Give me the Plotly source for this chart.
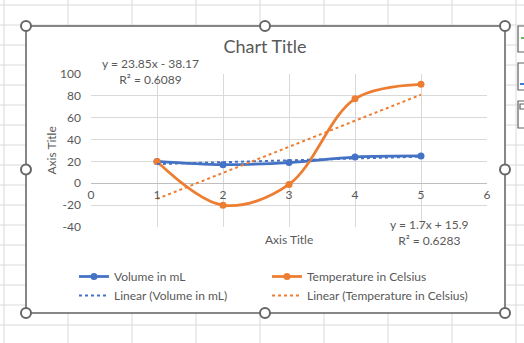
import plotly.graph_objects as go

# ---- data -----------------------------------------------------------------
x_vals = [1, 2, 3, 4, 5]
volume_ml = [20, 17, 19, 24, 25]
temperature_c = [20, -20, -1, 77.3, 90.6]

# linear trendlines: (slope, intercept) and R²
vol_fit = (1.7, 15.9)
vol_r2 = 0.6283
temp_fit = (23.85, -38.17)
temp_r2 = 0.6089
trend_x = [1, 5]

x_ticks = [0, 1, 2, 3, 4, 5, 6]
y_ticks = [-40, -20, 0, 20, 40, 60, 80, 100]

# ---- geometry (pixels) ----------------------------------------------------
W, H = 524, 343
PL, PR, PT, PB = 91, 487, 74, 227          # plot area
CL, CR, CT, CB = 26, 505, 26, 313          # chart area frame

def fx(px):
    return (px - PL) / (PR - PL)

def fy(py):
    return (PB - py) / (PB - PT)

FONT = "Lato"
TXT = "#595959"
BLUE = "#4472C4"
ORANGE = "#ED7D31"


def eq_text(fit, r2):
    m, b = fit
    sign = "-" if b < 0 else "+"
    return f"y = {m:g}x {sign} {abs(b):g}<br>R² = {r2:.4f}"


def line_y(fit, xs):
    return [fit[0] * x + fit[1] for x in xs]


fig = go.Figure()

fig.add_trace(go.Scatter(
    x=x_vals, y=volume_ml, name="Volume in mL", mode="lines+markers",
    line=dict(color=BLUE, width=2.75, shape="spline", smoothing=1),
    marker=dict(size=7, color=BLUE), legend="legend", legendgroup="a"))
fig.add_trace(go.Scatter(
    x=x_vals, y=temperature_c, name="Temperature in Celsius", mode="lines+markers",
    line=dict(color=ORANGE, width=2.75, shape="spline", smoothing=1),
    marker=dict(size=7, color=ORANGE), legend="legend2", legendgroup="b"))
fig.add_trace(go.Scatter(
    x=trend_x, y=line_y(vol_fit, trend_x), name="Linear (Volume in mL)", mode="lines",
    line=dict(color=BLUE, width=2, dash="dot"), legend="legend", legendgroup="c"))
fig.add_trace(go.Scatter(
    x=trend_x, y=line_y(temp_fit, trend_x), name="Linear (Temperature in Celsius)",
    mode="lines", line=dict(color=ORANGE, width=2, dash="dot"),
    legend="legend2", legendgroup="d"))

# ---- worksheet cells behind the chart -------------------------------------
shapes = []
for k in range(9):
    px = 4 + 64 * k
    shapes.append(dict(type="line", xref="paper", yref="paper", layer="below",
                       x0=fx(px), x1=fx(px), y0=fy(-5), y1=fy(H + 5),
                       line=dict(color="#dadada", width=1)))
for k in range(18):
    py = 5 + 20 * k
    shapes.append(dict(type="line", xref="paper", yref="paper", layer="below",
                       x0=fx(-5), x1=fx(W + 5), y0=fy(py), y1=fy(py),
                       line=dict(color="#dadada", width=1)))

# chart area
shapes.append(dict(type="rect", xref="paper", yref="paper", layer="below",
                   x0=fx(CL), x1=fx(CR), y0=fy(CB), y1=fy(CT),
                   fillcolor="white", line=dict(color="#606060", width=1.5)))

# chart element buttons on the right edge
for top, bot in [(26, 52), (63, 90), (101, 128)]:
    shapes.append(dict(type="rect", xref="paper", yref="paper", layer="above",
                       x0=fx(518), x1=fx(532), y0=fy(bot), y1=fy(top),
                       fillcolor="white", line=dict(color="#606060", width=1.2)))
shapes.append(dict(type="line", xref="paper", yref="paper", layer="above",
                   x0=fx(521), x1=fx(525), y0=fy(38), y1=fy(38),
                   line=dict(color="#3a9a3a", width=1.5)))
shapes.append(dict(type="line", xref="paper", yref="paper", layer="above",
                   x0=fx(520), x1=fx(525), y0=fy(84), y1=fy(84),
                   line=dict(color="#3b7dd8", width=2)))
shapes.append(dict(type="rect", xref="paper", yref="paper", layer="above",
                   x0=fx(520), x1=fx(525), y0=fy(109), y1=fy(104),
                   fillcolor="white", line=dict(color="#606060", width=1.2)))

# selection handles
for hx, hy in [(CL, CT), (265, CT), (CR, CT), (CL, 169.5), (CR, 169.5),
               (CL, CB), (265, CB), (CR, CB)]:
    shapes.append(dict(type="circle", xref="paper", yref="paper", layer="above",
                       xsizemode="pixel", ysizemode="pixel",
                       xanchor=fx(hx), yanchor=fy(hy), x0=-5, x1=5, y0=-5, y1=5,
                       fillcolor="white", line=dict(color="#666666", width=2)))

ann_font = dict(family=FONT, size=12, color=TXT)
annotations = [
    dict(text=eq_text(temp_fit, temp_r2), x=fx(150), y=fy(71.5)),
    dict(text=eq_text(vol_fit, vol_r2), x=fx(429.5), y=fy(232.5)),
    dict(text="Axis Title", x=fx(289), y=fy(239)),
    dict(text="Axis Title", x=fx(50.5), y=fy(151), textangle=-90),
]
for a in annotations:
    a.update(xref="paper", yref="paper", xanchor="center", yanchor="middle",
             showarrow=False, align="center", font=ann_font)

legend_common = dict(orientation="v", xanchor="left", yanchor="top",
                     bgcolor="rgba(0,0,0,0)", tracegroupgap=0,
                     font=dict(family=FONT, size=12, color=TXT))

fig.update_layout(
    width=W, height=H,
    margin=dict(l=PL, r=W - PR, t=PT, b=H - PB, autoexpand=False),
    paper_bgcolor="white", plot_bgcolor="white",
    title=dict(text="Chart Title", x=265 / W, y=1 - 47 / H, xref="container",
               yref="container", xanchor="center", yanchor="middle",
               font=dict(family=FONT, size=18, color=TXT)),
    xaxis=dict(range=[0, 6], tickvals=x_ticks, ticktext=[str(v) for v in x_ticks],
               showgrid=True, gridcolor="#d9d9d9",
               zeroline=False, showline=False, anchor="free",
               position=40 / 140, ticks="", ticklabelstandoff=3,
               tickfont=dict(family=FONT, size=12, color=TXT), fixedrange=True),
    yaxis=dict(range=[-40, 100], tickvals=y_ticks, ticktext=[str(v) for v in y_ticks],
               showgrid=True, gridcolor="#d9d9d9",
               zeroline=True, zerolinecolor="#bfbfbf", zerolinewidth=1,
               showline=False, ticks="", ticklabelstandoff=9,
               tickfont=dict(family=FONT, size=12, color=TXT), fixedrange=True),
    shapes=shapes,
    annotations=annotations,
    legend=dict(x=fx(74), y=fy(262), **legend_common),
    legend2=dict(x=fx(267), y=fy(262), **legend_common),
    showlegend=True,
)

fig.write_html("out.html")
